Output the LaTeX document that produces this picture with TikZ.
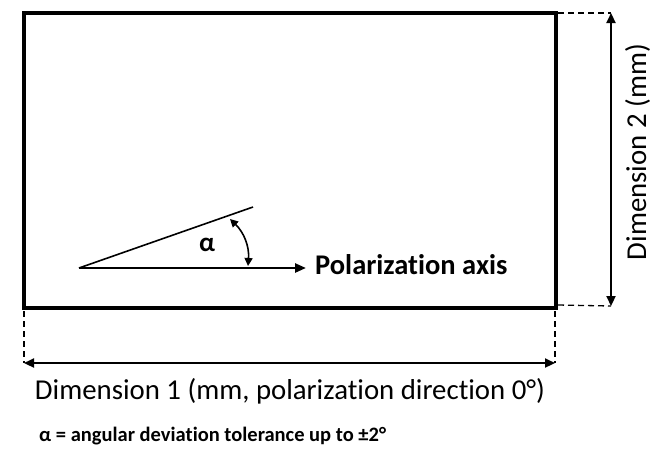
\documentclass[tikz,border=0pt]{standalone}
\usepackage{fontspec}
\setmainfont{Carlito}[Ligatures=NoCommon]
\usetikzlibrary{arrows.meta}
\tikzset{
  plate/.style={line width=4pt},
  dimline/.style={line width=2.2pt,{Triangle[length=10pt,width=9pt]}-{Triangle[length=10pt,width=9pt]}},
  extline/.style={line width=1.3pt,dash pattern=on 6pt off 4pt},
  dimtext/.style={font=\fontsize{28.8}{32}\selectfont,inner sep=0pt,anchor=base},
}
\begin{document}
\begin{tikzpicture}[x=1pt,y=-1pt]
\useasboundingbox (0,0) rectangle (672,459);
% plate
\coordinate (tl) at (24,13);
\coordinate (br) at (556,308);
\draw[plate] (tl) rectangle (br);
% polarization axis
\coordinate (o) at (79,268);
\coordinate (ax) at (306,268);
\coordinate (inc) at (253,207);
\draw[line width=2.5pt,-{Triangle[length=11pt,width=9pt]}] (o) -- (ax);
\draw[line width=1.6pt] (o) -- (inc);
\coordinate (a1) at (230,219);
\coordinate (a2) at (248,266);
\draw[line width=1.6pt,{Triangle[length=8pt,width=8pt]}-{Triangle[length=8pt,width=8pt]}] (a1) to[bend left=25] (a2);
\node[font=\bfseries\fontsize{27}{30}\selectfont,inner sep=0pt] (alpha) at (207,245) {α};
\node[anchor=base west,font=\bfseries\fontsize{28.5}{32}\selectfont,inner sep=0pt] (pol) at (315,274) {Polarization axis};
% dimension 2
\coordinate (d2t) at (611,13);
\coordinate (d2b) at (611,306);
\coordinate (e2t) at (558,13);
\coordinate (e2b) at (558,305);
\draw[extline] (e2t) -- (d2t);
\draw[extline] (e2b) -- (d2b);
\draw[dimline] (d2t) -- (d2b);
\node[dimtext,rotate=90] (dim2) at (646,152) {Dimension 2 (mm)};
% dimension 1
\coordinate (d1l) at (24,363);
\coordinate (d1r) at (555,363);
\coordinate (e1l) at (24,311);
\coordinate (e1r) at (555,311);
\draw[extline] (e1l) -- (d1l);
\draw[extline] (e1r) -- (d1r);
\draw[dimline] (d1l) -- (d1r);
\node[dimtext] (dim1) at (290,399) {Dimension 1 (mm, polarization direction 0°)};
% note
\node[anchor=base west,font=\bfseries\fontsize{20.5}{24}\selectfont,inner sep=0pt] (note) at (39,441) {α = angular deviation tolerance up to ±2°};
\end{tikzpicture}
\end{document}
